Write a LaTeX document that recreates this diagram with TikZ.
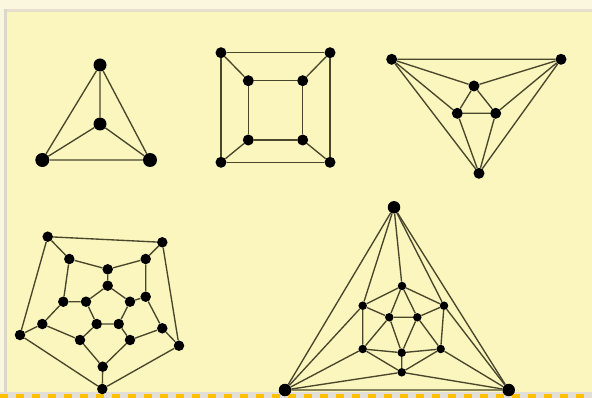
\documentclass[tikz,border=0pt]{standalone}
\usetikzlibrary{calc}
\definecolor{bgyellow}{RGB}{250,246,190}
\definecolor{bandlight}{RGB}{250,247,222}
\definecolor{tanline}{RGB}{232,222,204}
\definecolor{greyline}{RGB}{218,216,206}
\definecolor{edgecol}{RGB}{74,70,44}
\definecolor{dashorange}{RGB}{255,192,0}
\definecolor{dashgrey}{RGB}{226,224,214}
\tikzset{
  dot/.style={circle, fill=black, inner sep=0pt, minimum size=#1},
  dot/.default=10.5pt,
  edge/.style={draw=edgecol, line width=1.35pt},
}
\begin{document}
\begin{tikzpicture}[x=1pt,y=-1pt]
\useasboundingbox (0,0) rectangle (592,398);
% background
\fill[bandlight] (0,0) rectangle (592,398);
\fill[bgyellow] (7,12) rectangle (592,392);
\fill[tanline] (4,9) rectangle (592,12);
\fill[greyline] (4,9) rectangle (7,394);
\fill[dashgrey] (0,392) rectangle (592,398);
\foreach \i in {0,...,37} {
  \fill[dashorange] (\i*16,393.5) rectangle (\i*16+8,398);
}

% ---------- Tetrahedron ----------
\node[dot=13pt] (t1) at (100,65) {};
\node[dot=13pt] (t2) at (100,124) {};
\node[dot=14pt] (t3) at (42.3,160) {};
\node[dot=14pt] (t4) at (150,160) {};
\draw[edge] (t1)--(t2) (t1)--(t3) (t1)--(t4) (t2)--(t3) (t2)--(t4) (t3)--(t4);

% ---------- Cube ----------
\node[dot=11pt] (c1) at (221,52.7) {};
\node[dot=11pt] (c2) at (330,52.7) {};
\node[dot=11pt] (c3) at (330,162.3) {};
\node[dot=11pt] (c4) at (221,162.3) {};
\node[dot=11pt] (c5) at (248.3,80.7) {};
\node[dot=11pt] (c6) at (302.7,80.7) {};
\node[dot=11pt] (c7) at (302.7,140) {};
\node[dot=11pt] (c8) at (248.3,140) {};
\draw[edge] (c1)--(c2)--(c3)--(c4)--(c1);
\draw[edge] (c5)--(c6)--(c7)--(c8)--(c5);
\draw[edge] (c1)--(c5) (c2)--(c6) (c3)--(c7) (c4)--(c8);

% ---------- Octahedron ----------
\node[dot=11pt] (o1) at (391.7,59.3) {};
\node[dot=11pt] (o2) at (561,59.3) {};
\node[dot=11pt] (o3) at (479,173.3) {};
\node[dot=11pt] (o4) at (474,86) {};
\node[dot=11pt] (o5) at (457.3,113.3) {};
\node[dot=11pt] (o6) at (495.7,113.3) {};
\draw[edge] (o1)--(o2) (o1)--(o4) (o1)--(o5) (o1)--(o3)
  (o2)--(o4) (o2)--(o6) (o2)--(o3)
  (o3)--(o5) (o3)--(o6)
  (o4)--(o5) (o4)--(o6) (o5)--(o6);

% ---------- Dodecahedron ----------
\node[dot] (dA) at (47.7,236.7) {};
\node[dot] (dB) at (162.3,242.3) {};
\node[dot] (dC) at (179,345.7) {};
\node[dot] (dD) at (102.3,389) {};
\node[dot] (dE) at (20,335) {};
\node[dot] (m1) at (69.3,259) {};
\node[dot] (m2) at (107.7,269.3) {};
\node[dot] (m3) at (145.7,259) {};
\node[dot] (m4) at (145.7,296.7) {};
\node[dot] (m5) at (162.3,328.3) {};
\node[dot] (m6) at (130,340) {};
\node[dot] (m7) at (102.7,366.7) {};
\node[dot] (m8) at (80,340) {};
\node[dot] (m9) at (42.3,324) {};
\node[dot] (m10) at (63.3,301.7) {};
\node[dot] (i1) at (107.7,285.7) {};
\node[dot] (i2) at (130,301.7) {};
\node[dot] (i3) at (118.7,324) {};
\node[dot] (i4) at (96.7,324) {};
\node[dot] (i5) at (86,301.7) {};
\draw[edge] (dA)--(dB)--(dC)--(dD)--(dE)--(dA);
\draw[edge] (dA)--(m1) (dB)--(m3) (dC)--(m5) (dD)--(m7) (dE)--(m9);
\draw[edge] (m1)--(m2)--(m3)--(m4)--(m5)--(m6)--(m7)--(m8)--(m9)--(m10)--(m1);
\draw[edge] (m2)--(i1) (m4)--(i2) (m6)--(i3) (m8)--(i4) (m10)--(i5);
\draw[edge] (i1)--(i2)--(i3)--(i4)--(i5)--(i1);

% ---------- Icosahedron ----------
\node[dot=12.5pt] (T) at (394,207.3) {};
\node[dot=12.5pt] (L) at (285,390) {};
\node[dot=12.5pt] (R) at (508.7,390) {};
\node[dot=8.5pt] (h1) at (402,286) {};
\node[dot=8.5pt] (h2) at (444,305.7) {};
\node[dot=8.5pt] (h3) at (440.7,349) {};
\node[dot=8.5pt] (h4) at (401.7,372.3) {};
\node[dot=8.5pt] (h5) at (362.7,349) {};
\node[dot=8.5pt] (h6) at (362.7,305.7) {};
\node[dot=8.5pt] (n1) at (389.3,317.3) {};
\node[dot=8.5pt] (n2) at (417.3,317.3) {};
\node[dot=8.5pt] (n3) at (401.7,352.7) {};
\draw[edge] (T)--(L) (T)--(R) (L)--(R);
\draw[edge] (T)--(h1) (T)--(h2) (T)--(h6);
\draw[edge] (L)--(h6) (L)--(h5) (L)--(h4);
\draw[edge] (R)--(h2) (R)--(h3) (R)--(h4);
\draw[edge] (h1)--(h2)--(h3)--(h4)--(h5)--(h6)--(h1);
\draw[edge] (n1)--(n2)--(n3)--(n1);
\draw[edge] (n1)--(h1) (n1)--(h6) (n1)--(h5)
  (n2)--(h1) (n2)--(h2) (n2)--(h3)
  (n3)--(h5) (n3)--(h3) (n3)--(h4);
\end{tikzpicture}
\end{document}
